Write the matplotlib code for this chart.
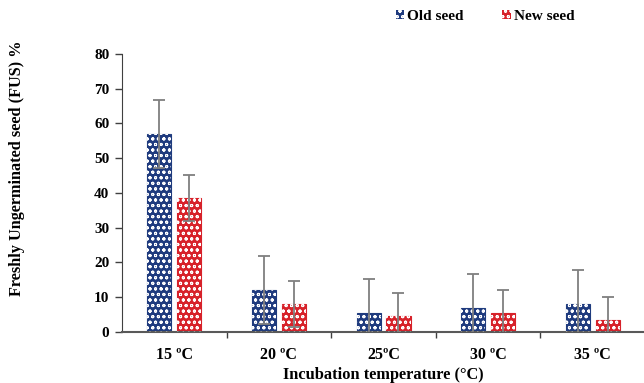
import numpy as np
import matplotlib
matplotlib.use('Agg')
import matplotlib.pyplot as plt

plt.rcParams['font.family'] = ['Liberation Serif', 'DejaVu Serif']
plt.rcParams['font.weight'] = 'bold'
plt.rcParams['hatch.linewidth'] = 0.7

# values
temps = ['15 ºC', '20 ºC', '25ºC', '30 ºC', '35 ºC']
old_seed = [57, 12, 5.5, 7, 8]
old_err = [9.8, 9.8, 9.8, 9.8, 9.8]
new_seed = [38.5, 8, 4.5, 5.5, 3.5]
new_err = [6.6, 6.6, 6.6, 6.5, 6.6]

blue = '#1f3b7e'
red = '#d7222a'
grey = '#7f7f7f'

fig = plt.figure(figsize=(6.44, 3.83), dpi=100)
ax = fig.add_axes([0.1894, 0.1332, 0.8106, 0.7258])

x = np.arange(len(temps))
w = 0.23
off = 0.143

handles = []
for vals, err, col, sign, lab in [(old_seed, old_err, blue, -1, 'Old seed'),
                                  (new_seed, new_err, red, 1, 'New seed')]:
    ax.bar(x + sign * off, vals, w, color=col, edgecolor=col, linewidth=0.8, zorder=2)
    ax.bar(x + sign * off, vals, w, facecolor='none', edgecolor='white', hatch='ooo',
           linewidth=0, zorder=3)
    ax.errorbar(x + sign * off, vals, yerr=err, fmt='none', ecolor=grey, elinewidth=1.3,
                capsize=4, capthick=1.3, zorder=4)
    handles.append(plt.Rectangle((0, 0), 1, 1, facecolor=col, edgecolor='white',
                                 hatch='ooo', linewidth=0, label=lab))

ax.set_xlim(-0.5, 4.49)
ax.set_ylim(0, 80)
ax.set_yticks(range(0, 81, 10))
ax.set_xticks(x)
ax.set_xticklabels(temps, fontsize=11.5, fontweight='bold')
ax.set_xticks(np.arange(0.5, 4.5, 1), minor=True)
ax.tick_params(axis='x', which='major', length=0, pad=11)
ax.tick_params(axis='x', which='minor', length=4, width=1, color='#404040', direction='out')
ax.tick_params(axis='y', length=5, width=1, color='#404040', labelsize=11, pad=4)
for lbl in ax.get_yticklabels():
    lbl.set_fontweight('bold')

for s in ['top', 'right']:
    ax.spines[s].set_visible(False)
ax.spines['left'].set_color('#404040')
ax.spines['bottom'].set_color('#595959')
ax.spines['bottom'].set_linewidth(1.5)

ax.set_xlabel('Incubation temperature (°C)', fontsize=11.8, fontweight='bold')
ax.set_ylabel('Freshly Ungerminated seed (FUS) %', fontsize=11.7, fontweight='bold')
ax.xaxis.set_label_coords(0.5, -0.125)
ax.yaxis.set_label_coords(-0.186, 0.59)

fig.legend(handles=handles, loc='center left', bbox_to_anchor=(0.603, 0.958), ncol=2,
           frameon=False, handlelength=0.55, handleheight=0.55, handletextpad=0.2,
           columnspacing=2.5, borderpad=0,
           prop={'family': 'Liberation Serif', 'weight': 'bold', 'size': 11})

fig.savefig('out.png', dpi=100)
